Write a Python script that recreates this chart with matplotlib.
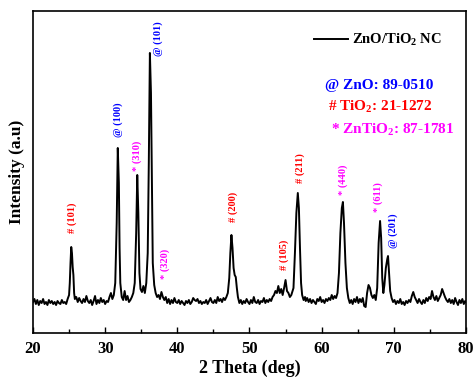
import matplotlib
matplotlib.use("Agg")
import numpy as np
from matplotlib import pyplot as plt
from matplotlib.ticker import MultipleLocator

# XRD pattern (2 theta in deg, intensity in arb. units)
two_theta = [
    20.0, 20.2, 20.4, 20.6, 20.8, 21.0, 21.2, 21.4, 21.6, 21.8,
    22.0, 22.2, 22.4, 22.6, 22.8, 23.0, 23.2, 23.4, 23.6, 23.8,
    24.0, 24.2, 24.4, 24.6, 24.8, 25.0, 25.1, 25.2, 25.3, 25.4,
    25.5, 25.6, 25.7, 25.8, 26.0, 26.2, 26.4, 26.6, 26.8, 27.0,
    27.2, 27.4, 27.6, 27.8, 28.0, 28.2, 28.4, 28.6, 28.8, 29.0,
    29.2, 29.4, 29.6, 29.8, 30.0, 30.2, 30.4, 30.6, 30.8, 31.0,
    31.2, 31.4, 31.6, 31.75, 31.9, 32.0, 32.1, 32.3, 32.5, 32.7,
    32.9, 33.1, 33.3, 33.5, 33.7, 33.9, 34.1, 34.3, 34.45, 34.6,
    34.75, 34.9, 35.1, 35.3, 35.5, 35.7, 35.9, 36.05, 36.2, 36.35,
    36.5, 36.6, 36.8, 37.0, 37.2, 37.4, 37.6, 37.8, 38.0, 38.2,
    38.4, 38.6, 38.8, 39.0, 39.2, 39.4, 39.6, 39.8, 40.0, 40.2,
    40.4, 40.6, 40.8, 41.0, 41.2, 41.4, 41.6, 41.8, 42.0, 42.2,
    42.4, 42.6, 42.8, 43.0, 43.2, 43.4, 43.6, 43.8, 44.0, 44.2,
    44.4, 44.6, 44.8, 45.0, 45.2, 45.4, 45.6, 45.8, 46.0, 46.2,
    46.4, 46.6, 46.8, 47.0, 47.2, 47.35, 47.5, 47.65, 47.8, 47.95,
    48.1, 48.25, 48.4, 48.6, 48.8, 49.0, 49.2, 49.4, 49.6, 49.8,
    50.0, 50.2, 50.4, 50.6, 50.8, 51.0, 51.2, 51.4, 51.6, 51.8,
    52.0, 52.2, 52.4, 52.6, 52.8, 53.0, 53.2, 53.4, 53.6, 53.8,
    54.0, 54.2, 54.4, 54.6, 54.8, 55.0, 55.2, 55.4, 55.6, 55.8,
    56.1, 56.3, 56.5, 56.7, 56.85, 57.0, 57.15, 57.3, 57.5, 57.7,
    57.8, 58.0, 58.2, 58.4, 58.6, 58.8, 59.0, 59.2, 59.4, 59.6,
    59.8, 60.0, 60.2, 60.4, 60.6, 60.8, 61.0, 61.2, 61.4, 61.6,
    61.8, 62.0, 62.2, 62.4, 62.6, 62.8, 62.95, 63.1, 63.3, 63.5,
    63.7, 63.9, 64.1, 64.3, 64.5, 64.7, 64.9, 65.1, 65.3, 65.5,
    65.7, 65.9, 66.1, 66.3, 66.5, 66.7, 66.9, 67.1, 67.3, 67.5,
    67.7, 67.9, 68.1, 68.25, 68.4, 68.55, 68.7, 68.9, 69.1, 69.2,
    69.35, 69.5, 69.7, 69.9, 70.1, 70.3, 70.5, 70.7, 70.9, 71.1,
    71.3, 71.5, 71.7, 71.9, 72.1, 72.3, 72.5, 72.7, 72.9, 73.1,
    73.3, 73.5, 73.7, 73.9, 74.1, 74.3, 74.5, 74.7, 74.9, 75.1,
    75.3, 75.5, 75.7, 75.9, 76.1, 76.3, 76.5, 76.7, 76.9, 77.1,
    77.3, 77.5, 77.7, 77.9, 78.1, 78.3, 78.5, 78.7, 78.9, 79.1,
    79.3, 79.5, 79.7, 79.9, 80.0,
]
intensity = [
    31, 34, 29, 33, 28, 32, 30, 34, 29, 31,
    28, 33, 30, 32, 29, 31, 28, 32, 30, 29,
    33, 30, 31, 29, 34, 38, 50, 70, 86, 80,
    66, 58, 40, 34, 36, 31, 35, 32, 30, 34,
    31, 37, 32, 30, 33, 28, 32, 37, 29, 33,
    30, 35, 31, 33, 29, 32, 31, 36, 40, 34,
    38, 50, 110, 185, 150, 85, 50, 36, 33, 42,
    33, 37, 31, 33, 36, 40, 50, 100, 158, 120,
    60, 44, 41, 47, 40, 50, 80, 170, 280, 240,
    140, 70, 48, 40, 36, 38, 34, 41, 36, 33,
    36, 30, 34, 29, 33, 30, 35, 31, 30, 33,
    29, 32, 30, 28, 32, 30, 33, 29, 31, 35,
    33, 32, 34, 30, 32, 29, 31, 30, 33, 29,
    32, 35, 31, 30, 33, 30, 36, 32, 34, 31,
    35, 33, 36, 40, 55, 80, 98, 85, 65, 58,
    56, 45, 36, 30, 33, 29, 32, 30, 34, 31,
    29, 33, 30, 36, 31, 30, 33, 29, 32, 31,
    35, 30, 33, 31, 34, 32, 36, 38, 42, 40,
    47, 40, 44, 38, 45, 53, 42, 40, 36, 38,
    45, 80, 120, 140, 125, 85, 50, 38, 33, 36,
    32, 35, 31, 34, 30, 33, 31, 29, 34, 32,
    36, 31, 33, 30, 34, 32, 35, 33, 38, 34,
    37, 35, 40, 60, 100, 125, 131, 110, 70, 45,
    35, 30, 33, 29, 34, 31, 36, 30, 34, 31,
    35, 27, 26, 40, 48, 45, 38, 35, 38, 33,
    45, 90, 112, 95, 55, 40, 48, 65, 74, 77,
    60, 42, 35, 31, 33, 29, 32, 30, 34, 29,
    31, 28, 32, 30, 33, 31, 37, 41, 36, 33,
    30, 34, 31, 29, 33, 30, 35, 32, 36, 34,
    42, 36, 33, 37, 32, 35, 38, 44, 40, 36,
    33, 31, 34, 30, 33, 29, 35, 31, 28, 33,
    30, 34, 29, 32, 31,
]

# peak assignments
peak_labels = ["# (101)", "@ (100)", "* (310)", "@ (101)", "* (320)", "# (200)",
               "# (105)", "# (211)", "* (440)", "* (611)", "@ (201)"]
peak_colors = ["red", "blue", "magenta", "blue", "magenta", "red",
               "red", "red", "magenta", "magenta", "blue"]
peak_label_pos = [(25.4, 115), (31.8, 213), (34.5, 177), (37.3, 294), (38.3, 69),
                  (47.7, 126), (54.8, 78), (57.0, 165), (63.0, 153), (67.9, 136),
                  (69.9, 102)]

card_labels = ["@ ZnO: 89-0510", "# TiO$_2$: 21-1272", "* ZnTiO$_2$: 87-1781"]
card_colors = ["blue", "red", "magenta"]

plt.rcParams["font.family"] = "Liberation Serif"
plt.rcParams["font.weight"] = "bold"
plt.rcParams["mathtext.fontset"] = "custom"
plt.rcParams["mathtext.rm"] = "Liberation Serif:bold"
plt.rcParams["mathtext.bf"] = "Liberation Serif:bold"
plt.rcParams["mathtext.it"] = "Liberation Serif:italic:bold"

fig = plt.figure(figsize=(4.74, 3.78), dpi=100)
ax = fig.add_axes([0.0696, 0.119, 0.9134, 0.852])

ax.plot(two_theta, intensity, color="black", lw=1.4, label="ZnO/TiO$_2$ NC")

for lab, col, (px, py) in zip(peak_labels, peak_colors, peak_label_pos):
    ax.text(px, py, lab, color=col, rotation=90, ha="center", va="center",
            fontsize=7.5, fontweight="bold")

for i, (lab, col) in enumerate(zip(card_labels, card_colors)):
    ax.text(0.675 + 0.007 * i, 0.77 - 0.069 * i, lab, color=col, fontsize=11,
            fontweight="bold", transform=ax.transAxes, va="center", ha="left")

ax.legend(loc="upper right", bbox_to_anchor=(0.975, 0.975), frameon=False,
          fontsize=10.5, handlelength=2.3, handletextpad=0.3)

ax.set_xlim(20, 80)
ax.set_ylim(0, 322)
ax.xaxis.set_major_locator(MultipleLocator(10))
ax.xaxis.set_minor_locator(MultipleLocator(5))
ax.set_yticks([])
ax.tick_params(axis="x", which="both", direction="in", top=False, labelsize=12, pad=6)
ax.tick_params(axis="x", which="major", length=4, width=1)
ax.tick_params(axis="x", which="minor", length=3, width=1)
for s in ax.spines.values():
    s.set_linewidth(1.2)

ax.set_xlabel("2 Theta (deg)", fontsize=13, fontweight="bold", labelpad=2)
ax.set_ylabel("Intensity (a.u)", fontsize=12.5, fontweight="bold", labelpad=6)

fig.savefig("out.png", dpi=100)
